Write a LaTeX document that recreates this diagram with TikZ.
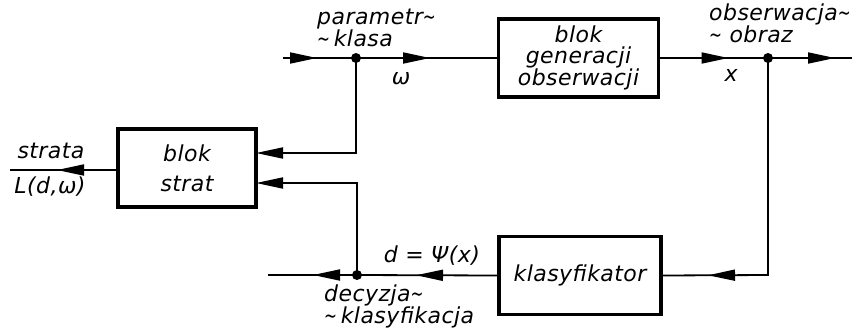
\documentclass[tikz,border=0pt]{standalone}
\usepackage{graphicx}
\usepackage{fontspec}
\setmainfont{DejaVu Sans}[LetterSpace=2]
\usetikzlibrary{arrows.meta,decorations.markings,calc}
% narrow tilde used as a word connector
\newcommand{\tld}{\scalebox{0.7}[1]{∼}}
\tikzset{
  blockbox/.style={draw,line width=3.6pt,minimum width=#1,minimum height=78pt,
    inner sep=0pt,outer sep=0pt,align=center,font=\itshape\fontsize{22}{21}\selectfont},
  wire/.style={line width=1.8pt},
  tip/.style={-{Triangle[length=27pt,width=11pt]}},
  midtip/.style={postaction={decorate},decoration={markings,
    mark=at position #1 with {\arrow{Triangle[length=27pt,width=11pt]}}}},
  junction/.style={circle,fill,inner sep=0pt,minimum size=10pt},
  lbl/.style={inner sep=0pt,align=left,font=\itshape\fontsize{22}{21}\selectfont},
}
\begin{document}
\begin{tikzpicture}[x=1pt,y=-1pt]
\useasboundingbox (0,0) rectangle (853,333);

% blocks
\node[blockbox=160pt] (gen) at (578.5,58) {blok\\generacji\\obserwacji};
\node[blockbox=162pt] (klas) at (580,275.5) {klasyfikator};
\node[blockbox=138pt] (strat) at (187,168) {blok\\[9pt]strat};

% junctions and free ends
\coordinate (in) at (283,58);
\node[junction] (j1) at (356,58) {};
\node[junction] (j2) at (768,58) {};
\coordinate (out) at (852,58);
\coordinate (turn) at (768,275);
\node[junction] (j3) at (357,275) {};
\coordinate (dend) at (268,275);
\coordinate (lend) at (10,170);
\coordinate (sa) at ($(strat.east)+(0,-15)$);
\coordinate (sb) at ($(strat.east)+(0,15)$);

% upper signal path
\draw[wire,midtip=34pt] (in) -- (j1.center);
\draw[wire,midtip=74pt] (j1.center) -- (gen.west);
\draw[wire,midtip=70pt] (gen.east) -- (j2.center);
\draw[wire,midtip=67pt] (j2.center) -- (out);

% feedback through the classifier
\draw[wire,midtip=277pt] (j2.center) -- (turn) -- (klas.east);
\draw[wire,midtip=83pt] (klas.west) -- (j3.center);
\draw[wire,midtip=44pt] (j3.center) -- (dend);

% inputs of the loss block
\draw[wire,tip] (j1.center) |- (sa);
\draw[wire,tip] (j3.center) |- (sb);
\draw[wire,midtip=61pt] (strat.west|-lend) -- (lend);

% labels
\node[lbl,anchor=north west] (tp) at (317,9) {parametr\tld\\\tld\,klasa};
\node[lbl] (tw) at (401,79) {ω};
\node[lbl,anchor=north west,font=\itshape\fontsize{22}{22}\selectfont] (to) at (709,4) {obserwacja\tld\\\tld\ obraz};
\node[lbl] (tx) at (731,75) {x};
\node[lbl,anchor=base] (ts) at (51,158) {strata};
\node[lbl,anchor=base] (tl) at (50,193) {L(d,ω)};
\node[lbl,anchor=base] (td) at (432,262) {d = Ψ(x)};
\node[lbl,anchor=north west,font=\itshape\fontsize{22}{22}\selectfont] (tdec) at (324,285) {decyzja\tld\\\tld\,klasyfikacja};
\end{tikzpicture}
\end{document}
